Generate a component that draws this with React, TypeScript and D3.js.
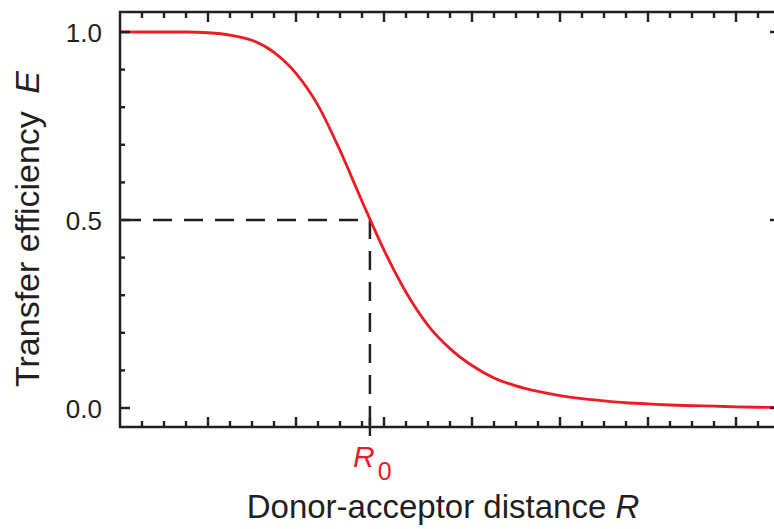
import React, { useRef, useEffect } from "react";
import * as d3 from "d3";

// values
const distance = [
	0, 0.5, 1, 1.5, 2, 2.5, 3, 3.5, 4, 4.5, 5, 5.5, 6, 6.5, 7, 7.5, 8, 8.5,
	9, 9.5, 10, 10.5, 11, 11.5, 12, 12.5, 13, 13.5, 14, 14.5, 15,
];
const efficiency = [
	1.0, 1.0, 1.0, 1.0, 0.998, 0.992, 0.978, 0.946, 0.89, 0.805, 0.685, 0.55,
	0.42, 0.308, 0.22, 0.158, 0.113, 0.08, 0.059, 0.044, 0.033, 0.025, 0.019,
	0.014, 0.011, 0.008, 0.006, 0.005, 0.003, 0.002, 0.001,
];
const yTickLabels = ["0.0", "0.5", "1.0"];
const r0 = 5.68;

const width = 774;
const height = 529;

const App: React.FC = () => {
	const svgRef = useRef<SVGSVGElement | null>(null);

	useEffect(() => {
		if (!svgRef.current) return;
		const svg = d3.select(svgRef.current);
		svg.selectAll("*").remove();

		const left = 120;
		const right = 780;
		const top = 12;
		const bottom = 427;
		const ink = "#231f20";
		const red = "#ed1c24";
		const font = "'Liberation Sans', Arial, Helvetica, sans-serif";

		const x = d3.scaleLinear().domain([0, 15]).range([left, right]);
		const y = d3.scaleLinear().domain([0, 1]).range([408, 32]);

		svg.append("defs")
			.append("clipPath")
			.attr("id", "plot")
			.append("rect")
			.attr("x", left)
			.attr("y", top)
			.attr("width", right - left)
			.attr("height", bottom - top);

		// dashed guides at R0
		const guides = svg.append("g")
			.attr("stroke", ink)
			.attr("stroke-width", 2.5)
			.attr("stroke-dasharray", "19 12")
			.attr("fill", "none");
		guides.append("line")
			.attr("x1", left + 2).attr("x2", x(r0))
			.attr("y1", y(0.5)).attr("y2", y(0.5));
		guides.append("line")
			.attr("x1", x(r0)).attr("x2", x(r0))
			.attr("y1", y(0.5)).attr("y2", bottom);

		// curve
		const pts = distance.map((d, i) => [d, efficiency[i]] as [number, number]);
		const line = d3.line<[number, number]>()
			.x((d) => x(d[0]))
			.y((d) => y(d[1]))
			.curve(d3.curveMonotoneX);
		svg.append("path")
			.attr("clip-path", "url(#plot)")
			.attr("d", line(pts))
			.attr("fill", "none")
			.attr("stroke", red)
			.attr("stroke-width", 2.8);

		// frame
		svg.append("rect")
			.attr("x", left).attr("y", top)
			.attr("width", right - left).attr("height", bottom - top)
			.attr("fill", "none")
			.attr("stroke", ink)
			.attr("stroke-width", 2.5);

		const ticks = svg.append("g").attr("stroke", ink).attr("stroke-width", 2.4);

		// x ticks, bottom and top, pointing inward
		const xMinor = d3.range(0.5, 15, 0.5);
		xMinor.forEach((v) => {
			const major = Math.abs(v % 2) < 1e-6;
			const len = major ? 10 : 6;
			ticks.append("line")
				.attr("x1", x(v)).attr("x2", x(v))
				.attr("y1", bottom).attr("y2", bottom - len);
			ticks.append("line")
				.attr("x1", x(v)).attr("x2", x(v))
				.attr("y1", top).attr("y2", top + len);
		});
		// R0 marker tick crossing the bottom axis
		ticks.append("line")
			.attr("x1", x(r0)).attr("x2", x(r0))
			.attr("y1", bottom - 9).attr("y2", bottom + 9);

		// y ticks, left and right
		const yMinor = d3.range(0, 11).map((k) => k / 10);
		yMinor.forEach((v, k) => {
			const major = k % 5 === 0;
			const len = major ? 10 : 5;
			ticks.append("line")
				.attr("x1", left).attr("x2", left + len)
				.attr("y1", y(v)).attr("y2", y(v));
			ticks.append("line")
				.attr("x1", right).attr("x2", right - len)
				.attr("y1", y(v)).attr("y2", y(v));
		});

		// y tick labels
		svg.append("g")
			.selectAll("text")
			.data(yTickLabels)
			.enter()
			.append("text")
			.attr("x", 102)
			.attr("y", (d) => y(+d) + 9.5)
			.attr("text-anchor", "end")
			.attr("font-family", font)
			.attr("font-size", 26)
			.attr("fill", ink)
			.text((d) => d);

		// R0 label
		const r0Label = svg.append("text")
			.attr("x", 353)
			.attr("y", 467)
			.attr("font-family", font)
			.attr("fill", red);
		r0Label.append("tspan").attr("font-size", 30).attr("font-style", "italic").text("R");
		r0Label.append("tspan").attr("font-size", 25).attr("dx", 3).attr("dy", 13).text("0");

		// axis titles
		const xTitle = svg.append("text")
			.attr("x", 443)
			.attr("y", 518)
			.attr("text-anchor", "middle")
			.attr("font-family", font)
			.attr("font-size", 33)
			.attr("fill", ink);
		xTitle.append("tspan").text("Donor-acceptor distance ");
		xTitle.append("tspan").attr("font-style", "italic").text("R");

		const yTitle = svg.append("text")
			.attr("transform", `translate(39, 229) rotate(-90)`)
			.attr("text-anchor", "middle")
			.attr("font-family", font)
			.attr("font-size", 34)
			.attr("fill", ink);
		yTitle.append("tspan").text("Transfer efficiency ");
		yTitle.append("tspan").attr("font-style", "italic").attr("dx", 8).text("E");
	}, []);

	return (
		<svg
			ref={svgRef}
			width={width}
			height={height}
			style={{ position: "absolute", left: 0, top: 0, background: "#fff" }}
		/>
	);
};

export default App;
